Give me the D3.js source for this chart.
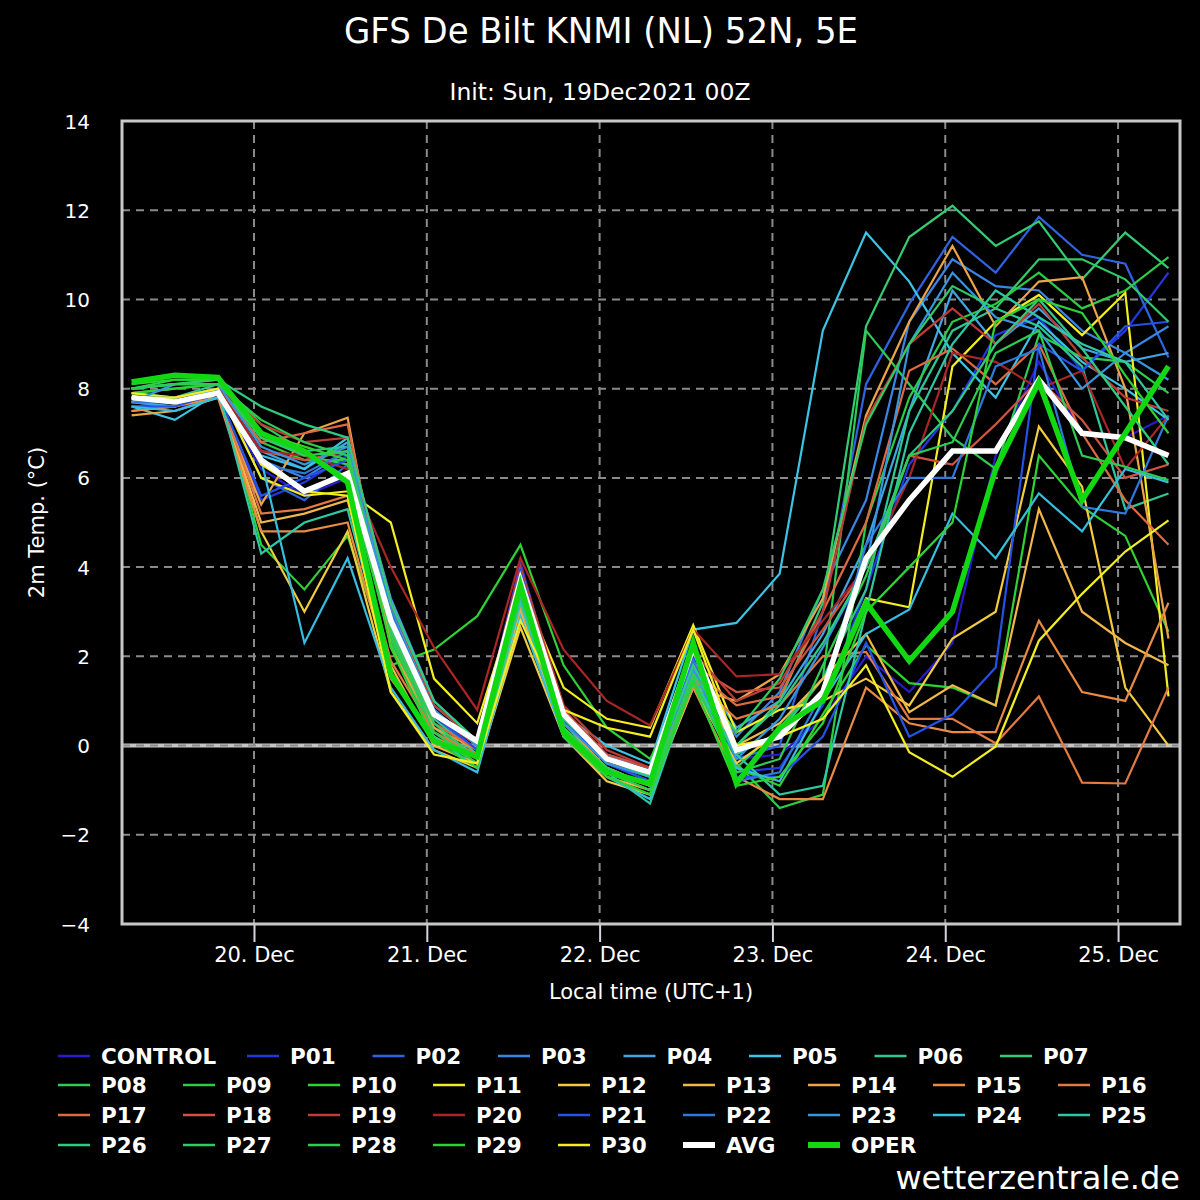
<!DOCTYPE html>
<html><head><meta charset="utf-8">
<script src="https://cdnjs.cloudflare.com/ajax/libs/d3/7.8.5/d3.min.js"></script>
<style>
html,body{margin:0;padding:0;background:#000;}
svg{display:block;}
</style></head>
<body>
<svg id="chart" width="1200" height="1200"></svg>
<script>
// ---------- DATA ----------
const titleText = "GFS De Bilt KNMI (NL) 52N, 5E";
const subtitleText = "Init: Sun, 19Dec2021 00Z";
const yAxisTitle = "2m Temp. (°C)";
const xAxisTitle = "Local time (UTC+1)";
const watermark = "wetterzentrale.de";
// forecast hours (local time) after 19 Dec 00:00, every 6 h
const hours = [7,13,19,25,31,37,43,49,55,61,67,73,79,85,91,97,103,109,115,121,127,133,139,145,151];
const yTicks = [-4,-2,0,2,4,6,8,10,12,14];

const control = [7.7,7.6,7.9,6.2,5.6,6.0,2.5,0.6,-0.1,3.9,0.6,-0.3,-0.7,1.9,-0.3,-0.2,0.6,2.0,1.2,2.3,6.5,8.6,7.0,6.9,7.4];
const p01 = [7.6,7.5,7.9,5.5,5.9,6.5,2.9,0.8,0.0,4.1,0.7,-0.2,-0.6,2.0,-0.6,-0.5,0.9,3.5,6.3,7.5,9.2,9.6,8.4,9.3,10.6];
const p02 = [7.7,7.6,8.0,6.0,5.5,6.3,2.8,0.7,-0.2,3.8,0.6,-0.4,-0.8,1.8,-0.3,0.0,3.0,8.1,9.9,11.4,10.6,11.85,11.0,10.8,8.7];
const p03 = [7.8,7.7,8.0,6.4,6.0,6.6,3.1,0.8,0.0,3.5,0.5,-0.3,-0.6,1.8,0.2,1.2,3.5,5.5,9.5,10.9,10.3,10.2,9.3,8.8,9.4];
const p04 = [7.7,7.6,8.0,6.6,6.2,6.8,3.3,1.0,0.1,3.4,0.6,-0.2,-0.5,1.9,0.4,1.0,2.5,4.5,7.5,10.2,9.0,9.8,8.9,8.6,8.8];
const p05 = [7.6,7.3,7.9,6.5,6.2,6.9,3.0,0.9,0.1,3.3,0.7,0.0,-0.4,2.6,2.75,3.85,9.3,11.5,10.4,8.8,7.8,9.5,8.6,8.0,7.3];
const p06 = [7.9,7.8,8.1,6.9,6.6,6.7,2.7,0.6,-0.2,3.6,0.4,-0.5,-0.9,1.6,-0.2,0.3,1.5,3.5,7.5,9.3,9.8,9.4,8.5,5.3,5.65];
const p07 = [8.0,8.1,8.1,7.0,6.5,6.3,2.6,0.4,-0.3,3.4,0.3,-0.6,-1.0,1.5,0.0,1.0,3.2,9.4,11.4,12.1,11.2,11.75,10.45,11.5,10.7];
const p08 = [8.0,8.2,8.2,7.2,6.6,6.0,2.3,0.2,-0.4,3.3,0.2,-0.7,-1.1,1.4,-0.5,0.4,1.5,9.3,8.1,6.9,6.2,9.2,8.7,8.6,7.9];
const p09 = [7.9,8.0,8.1,6.8,6.4,6.4,2.4,0.3,-0.3,3.5,0.3,-0.6,-0.9,1.5,-0.4,-1.4,-1.1,5.0,7.8,9.5,9.9,10.6,9.8,10.2,10.95];
const p10 = [7.9,8.0,8.1,4.5,3.5,4.7,1.8,2.15,2.9,4.5,1.8,0.4,-0.3,1.6,-0.5,-0.9,0.7,2.25,1.4,1.3,0.9,6.5,5.35,4.7,2.55];
const p11 = [7.9,7.8,8.0,6.0,5.6,5.7,5.0,1.5,0.5,3.6,1.3,0.6,0.4,2.7,0.3,0.8,1.0,3.3,3.1,8.5,9.5,10.1,9.2,10.15,1.1];
const p12 = [7.8,7.7,7.9,4.8,3.0,4.8,1.2,-0.1,-0.5,2.65,0.2,-0.8,-1.1,1.3,-0.4,0.3,1.0,1.5,0.9,2.4,3.0,7.15,5.8,1.3,0.0];
const p13 = [7.5,7.6,7.9,5.0,5.2,5.5,1.8,0.0,-0.4,3.0,0.3,-0.7,-1.0,1.4,0.0,0.5,1.5,2.5,0.75,1.35,0.9,5.3,3.0,2.3,1.8];
const p14 = [7.4,7.5,7.8,5.4,7.0,7.35,2.2,0.4,-0.1,3.1,0.5,-0.5,-0.9,1.3,1.0,1.6,3.3,7.4,9.5,11.2,9.4,10.4,10.5,8.0,2.4];
const p15 = [7.5,7.6,7.8,4.8,4.8,5.0,1.5,0.2,-0.3,3.2,0.4,-0.6,-0.9,1.3,-0.7,-1.2,-1.2,1.3,0.5,0.3,0.3,2.8,1.2,1.0,3.2];
const p16 = [7.6,7.6,7.9,5.2,5.3,5.6,1.9,0.3,-0.2,3.4,0.6,-0.4,-0.7,1.5,0.6,0.9,2.0,2.1,0.6,0.6,0.05,1.1,-0.83,-0.85,1.3];
const p17 = [7.7,7.7,8.0,6.8,7.0,7.2,2.6,0.5,-0.1,3.7,0.7,-0.3,-0.6,1.7,0.9,1.1,3.0,5.0,8.4,8.9,8.1,9.0,7.0,5.5,4.5];
const p18 = [7.8,7.7,8.0,6.6,6.4,6.6,2.9,0.7,0.0,3.9,0.8,-0.2,-0.5,1.8,1.2,1.3,2.6,4.0,6.5,6.3,7.2,8.2,7.3,6.0,6.3];
const p19 = [7.8,7.7,8.0,7.2,6.8,6.9,3.2,0.9,0.1,4.0,0.9,-0.1,-0.5,2.1,1.0,1.4,3.0,7.3,9.0,9.8,9.0,9.9,8.7,7.8,7.5];
const p20 = [7.8,7.8,8.0,6.6,6.5,6.2,4.0,2.2,0.8,4.2,2.15,1.0,0.45,2.6,1.55,1.6,2.8,4.0,6.0,8.8,8.6,8.0,8.4,6.2,7.4];
const p21 = [7.6,7.6,7.9,5.6,6.0,6.4,2.7,0.7,-0.1,3.9,0.6,-0.4,-0.8,1.9,-0.7,-0.7,0.2,2.3,0.2,0.7,1.75,9.0,8.4,9.4,9.5];
const p22 = [7.7,7.7,8.0,6.3,6.1,6.6,3.0,0.8,0.0,3.7,0.7,-0.3,-0.7,1.9,-0.8,-0.6,1.2,4.5,6.0,6.0,8.5,8.9,5.35,5.2,7.4];
const p23 = [7.7,8.1,8.1,6.7,6.3,6.7,2.9,0.8,0.0,3.3,0.5,-0.4,-0.7,1.7,-0.3,0.6,2.2,4.0,9.0,10.6,9.6,9.3,8.0,8.8,8.2];
const p24 = [7.6,7.5,7.8,6.4,2.3,4.2,1.3,-0.1,-0.6,2.9,0.2,-0.7,-1.2,1.5,-0.5,-0.8,1.0,2.5,3.05,5.2,4.2,5.65,4.8,6.2,5.9];
const p25 = [7.8,7.8,8.0,4.3,5.0,5.3,1.6,0.2,-0.5,3.2,0.3,-0.6,-1.3,1.5,-0.2,-1.1,-0.9,3.0,7.0,9.0,10.2,9.6,9.0,8.6,7.3];
const p26 = [8.0,8.1,8.2,7.6,7.2,6.9,3.2,1.0,0.1,3.6,0.6,-0.3,-0.7,1.8,0.0,0.9,2.3,4.0,6.5,7.5,9.0,10.0,8.9,7.6,6.3];
const p27 = [8.0,8.1,8.2,6.9,6.5,6.6,2.6,0.5,-0.3,3.5,0.4,-0.5,-0.9,1.6,0.3,1.5,3.5,7.2,9.0,10.3,9.8,10.9,10.9,10.45,9.5];
const p28 = [8.0,8.1,8.1,7.3,6.8,6.5,2.5,0.3,-0.4,3.4,0.3,-0.6,-1.0,1.5,-0.6,-0.3,1.8,3.8,6.5,6.8,8.8,9.3,6.5,6.25,5.95];
const p29 = [8.1,8.2,8.2,7.0,6.7,6.4,2.2,0.1,-0.5,3.5,0.2,-0.7,-1.1,1.4,-0.9,-0.7,0.5,3.0,4.0,5.0,9.5,10.0,9.7,8.3,7.0];
const p30 = [7.8,7.8,8.0,6.3,5.7,5.6,1.2,-0.2,-0.4,2.8,0.8,0.4,0.2,2.6,0.0,0.2,0.6,1.8,-0.15,-0.7,-0.02,2.35,3.4,4.35,5.05];
const avg  = [7.8,7.7,7.9,6.4,5.7,6.1,2.8,0.7,0.1,3.7,0.7,-0.3,-0.6,2.2,-0.1,0.2,1.2,4.2,5.5,6.6,6.6,8.2,7.0,6.9,6.5];
const oper = [8.15,8.3,8.25,7.0,6.6,5.9,1.6,0.1,-0.25,3.6,0.3,-0.6,-0.85,2.3,-0.85,0.4,1.0,3.2,1.9,3.0,6.2,8.15,5.5,7.0,8.5];

const memberNames = ["CONTROL","P01","P02","P03","P04","P05","P06","P07","P08","P09","P10",
  "P11","P12","P13","P14","P15","P16","P17","P18","P19","P20",
  "P21","P22","P23","P24","P25","P26","P27","P28","P29","P30"];
const memberValues = [control,p01,p02,p03,p04,p05,p06,p07,p08,p09,p10,
  p11,p12,p13,p14,p15,p16,p17,p18,p19,p20,p21,p22,p23,p24,p25,p26,p27,p28,p29,p30];

// ---------- STYLE ----------
const memberColors = ["#2a1ccc","#2438e0","#2f63e0","#3a86e4","#42a4e2","#3cc4e4","#2ec896","#34cc72",
  "#2ecc54","#2ccc44","#2ed234","#f2ee22","#f2cc3e","#f0b848","#eca448","#e88c44","#e27a42",
  "#de6a40","#d25240","#be3c36","#aa2626","#2452e4","#2f78dc","#3696e0","#36bee0","#2ec8a4",
  "#2ecc82","#2ecc64","#2ecc50","#2ed232","#f2ee22"];

const W = 1200, H = 1200;
const L = 122, R = 1180, T = 121, B = 924;
const svg = d3.select("#chart");
svg.append("rect").attr("width",W).attr("height",H).attr("fill","#000");

const t0 = Date.UTC(2021,11,19,0,0);
const toDate = h => new Date(t0 + h*3600e3);
const x = d3.scaleUtc().domain([toDate(5.67), toDate(152.6)]).range([L, R]);
const y = d3.scaleLinear().domain([-4,14]).range([B, T]);

const fontMain = "'DejaVu Sans', 'Liberation Sans', sans-serif";
const fontCond = "'DejaVu Sans Condensed', 'DejaVu Sans', sans-serif";

// title
svg.append("text").attr("x",601).attr("y",43).attr("text-anchor","middle")
  .attr("font-family",fontCond).attr("font-stretch","condensed").attr("font-size",36).attr("fill","#fff")
  .attr("textLength",514).attr("lengthAdjust","spacingAndGlyphs").text(titleText);
svg.append("text").attr("x",600).attr("y",100).attr("text-anchor","middle")
  .attr("font-family",fontCond).attr("font-stretch","condensed").attr("font-size",23).attr("fill","#fff")
  .attr("textLength",301).attr("lengthAdjust","spacingAndGlyphs").text(subtitleText);

// grid
const dayTicks = x.ticks(d3.utcDay.every(1));
const g = svg.append("g");
g.append("line").attr("x1",L).attr("x2",R).attr("y1",y(0)).attr("y2",y(0))
  .attr("stroke","#c4c4c4").attr("stroke-width",4);
g.selectAll("line.hg").data(yTicks.filter(v=>v>-4 && v<14)).join("line").attr("class","hg")
  .attr("x1",L).attr("x2",R).attr("y1",d=>y(d)).attr("y2",d=>y(d))
  .attr("stroke","#8a8a8a").attr("stroke-width",2).attr("stroke-dasharray","8,6");
g.selectAll("line.vg").data(dayTicks).join("line").attr("class","vg")
  .attr("x1",d=>x(d)).attr("x2",d=>x(d)).attr("y1",T).attr("y2",B)
  .attr("stroke","#8a8a8a").attr("stroke-width",2).attr("stroke-dasharray","8,6");

// axes
const yAxis = d3.axisLeft(y).tickValues(yTicks).tickSize(0).tickPadding(32)
  .tickFormat(d => d < 0 ? "\u2212" + Math.abs(d) : d);
const ya = svg.append("g").attr("transform",`translate(${L},0)`).call(yAxis);
ya.select(".domain").remove();
ya.selectAll("text").attr("fill","#fff").attr("font-family",fontMain).attr("font-size",20).attr("dy","0.35em");

const xAxis = d3.axisBottom(x).tickValues(dayTicks).tickSize(18).tickPadding(5)
  .tickFormat(d3.utcFormat("%d. %b"));
const xa = svg.append("g").attr("transform",`translate(0,${B})`).call(xAxis);
xa.select(".domain").remove();
xa.selectAll("line").attr("stroke","#d4d4e0").attr("stroke-width",2);
xa.selectAll("text").attr("fill","#fff").attr("font-family",fontMain).attr("font-size",21);

svg.append("text").attr("transform",`translate(44,${(T+B)/2}) rotate(-90)`).attr("text-anchor","middle")
  .attr("font-family",fontMain).attr("font-size",21).attr("fill","#fff").text(yAxisTitle);
svg.append("text").attr("x",(L+R)/2).attr("y",999).attr("text-anchor","middle")
  .attr("font-family",fontMain).attr("font-size",21).attr("fill","#fff").text(xAxisTitle);

// lines
const clip = svg.append("clipPath").attr("id","clip").append("rect")
  .attr("x",L).attr("y",T).attr("width",R-L).attr("height",B-T);
const lineGen = d3.line().x((d,i)=>x(toDate(hours[i]))).y(d=>y(d));
const pl = svg.append("g").attr("clip-path","url(#clip)");
memberValues.forEach((vals,k)=>{
  pl.append("path").attr("d",lineGen(vals)).attr("fill","none")
    .attr("stroke",memberColors[k]).attr("stroke-width",2.2).attr("stroke-linejoin","miter");
});
pl.append("path").attr("d",lineGen(avg)).attr("fill","none").attr("stroke","#fff").attr("stroke-width",5.5);
pl.append("path").attr("d",lineGen(oper)).attr("fill","none").attr("stroke","#12d812").attr("stroke-width",5.5);

// frame
svg.append("rect").attr("x",L).attr("y",T).attr("width",R-L).attr("height",B-T)
  .attr("fill","none").attr("stroke","#c8c8c8").attr("stroke-width",3);

// legend
const legendItems = memberNames.map((n,i)=>({name:n,color:memberColors[i],w:2.5}))
  .concat([{name:"AVG",color:"#fff",w:6},{name:"OPER",color:"#12d812",w:6}]);
const rowY = [1056,1085,1115,1145];
const leg = svg.append("g");
legendItems.forEach((it,i)=>{
  let row, col;
  if (i < 8) { row = 0; col = i; } else { row = Math.floor((i-8)/9)+1; col = (i-8)%9; }
  let lx;
  if (row === 0) lx = col === 0 ? 58 : 247 + (col-1)*125.5;
  else lx = 58 + col*125;
  const ly = rowY[row];
  leg.append("line").attr("x1",lx).attr("x2",lx+32).attr("y1",ly).attr("y2",ly)
    .attr("stroke",it.color).attr("stroke-width",it.w);
  leg.append("text").attr("x",lx+43).attr("y",ly).attr("dy","0.36em")
    .attr("font-family",fontMain).attr("font-weight","bold").attr("font-size",21.5)
    .attr("fill","#fff").text(it.name);
});

svg.append("text").attr("x",1180).attr("y",1189).attr("text-anchor","end")
  .attr("font-family",fontMain).attr("font-size",32).attr("fill","#fff").text(watermark);
</script>
</body></html>
